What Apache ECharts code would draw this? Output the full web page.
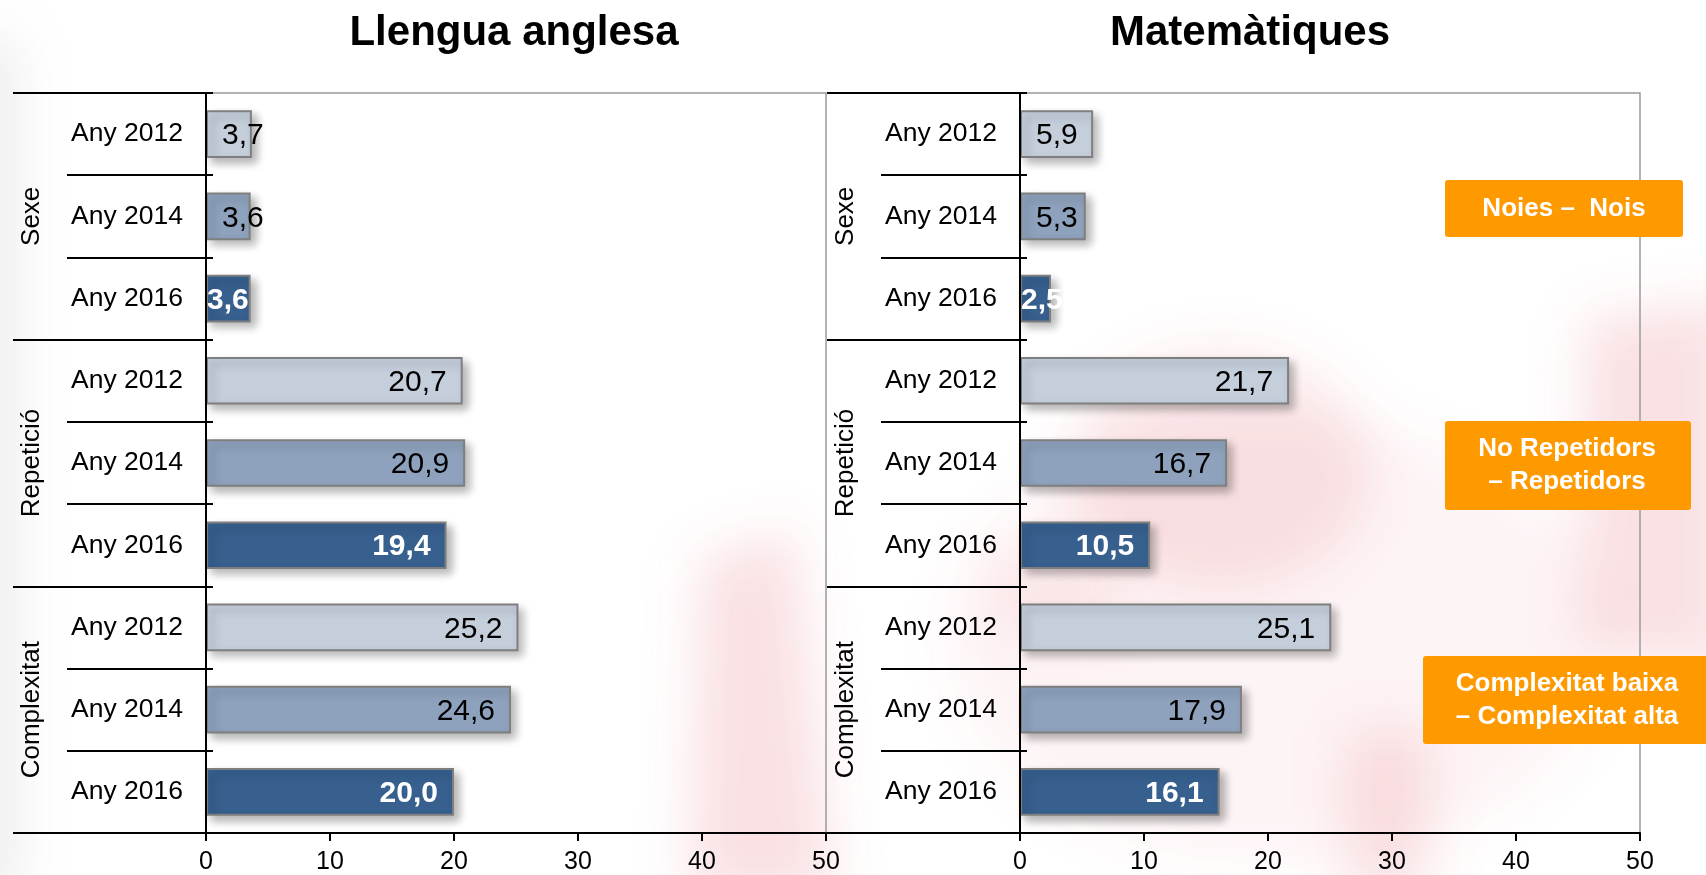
<!DOCTYPE html>
<html>
<head>
<meta charset="utf-8">
<title>Llengua anglesa · Matemàtiques</title>
<script src="https://cdn.jsdelivr.net/npm/echarts@6/dist/echarts.min.js"></script>
<style>
  html, body { margin: 0; padding: 0; background: #ffffff; }
  #wrap { position: relative; width: 1706px; height: 875px; overflow: hidden; }
  #haze { position: absolute; left: 0; top: 0; width: 1706px; height: 875px; }
  #chart { position: absolute; left: 0; top: 0; width: 1706px; height: 875px; }
</style>
</head>
<body>
<div id="wrap">
  <!-- faint watermark haze behind the chart -->
  <svg id="haze" width="1706" height="875" viewBox="0 0 1706 875">
    <defs>
      <filter id="soft" x="-40%" y="-40%" width="180%" height="180%">
        <feGaussianBlur stdDeviation="26"/>
      </filter>
    </defs>
    <g filter="url(#soft)">
      <rect x="-40" y="40" width="55" height="860" fill="#9a9a9a" opacity="0.20"/>
      <ellipse cx="1280" cy="640" rx="330" ry="220" fill="#e46874" opacity="0.07"/>
      <polygon points="700,560 795,530 835,900 690,900" fill="#e46874" opacity="0.20"/>
      <ellipse cx="1220" cy="470" rx="150" ry="120" fill="#e46874" opacity="0.15"/>
      <polygon points="1585,320 1730,300 1730,670 1580,650" fill="#e46874" opacity="0.20"/>
      <rect x="1345" y="730" width="85" height="170" fill="#e46874" opacity="0.18"/>
      <rect x="990" y="560" width="130" height="70" fill="#e46874" opacity="0.12"/>
    </g>
  </svg>
  <div id="chart"></div>
</div>
<script>
// Percentage-point gaps per group and survey year
const subjects = ['Llengua anglesa', 'Matemàtiques'];
const groups = ['Sexe', 'Repetició', 'Complexitat'];
const years = ['Any 2012', 'Any 2014', 'Any 2016'];
const english = [3.7, 3.6, 3.6, 20.7, 20.9, 19.4, 25.2, 24.6, 20.0];
const maths = [5.9, 5.3, 2.5, 21.7, 16.7, 10.5, 25.1, 17.9, 16.1];
const axisMin = 0;
const axisMax = 50;
const axisStep = 10;
const notes = ['Noies –  Nois', 'No Repetidors\n– Repetidors', 'Complexitat baixa\n– Complexitat alta'];

const yearColors = ['#C5CFDC', '#8EA2BD', '#37608F'];
const FONT = '"Liberation Sans", Arial, Helvetica, sans-serif';

const rowLabels = groups.flatMap(() => years);

const grids = [
  { left: 206, top: 93, width: 620, height: 740 },
  { left: 1020, top: 93, width: 620, height: 740 }
];

function fmt(v) { return v.toFixed(1).replace('.', ','); }

function barItems(values) {
  return values.map((v, i) => {
    const latest = i % 3 === 2;
    return {
      value: v,
      itemStyle: { color: yearColors[i % 3] },
      label: latest ? { color: '#ffffff', fontWeight: 'bold' } : { color: '#000000', fontWeight: 'normal' }
    };
  });
}

// keep value labels inside the bar end, but never past the bar start
function placeLabel(p) {
  const r = p.rect;
  const w = p.labelRect.width;
  const latest = p.dataIndex % 3 === 2;
  const start = r.x;
  const end = r.x + r.width;
  let right = end - 16;
  const minRight = start + (latest ? 1 : 16) + w;
  if (right < minRight) right = minRight;
  return { x: right, y: r.y + r.height / 2 + 2, align: 'right', verticalAlign: 'middle' };
}

const gridOpts = grids.map(g => Object.assign({
  show: true, borderColor: '#9a9a9a', borderWidth: 1.5, backgroundColor: 'transparent',
  containLabel: false, outerBoundsMode: 'none'
}, g));

const xAxes = grids.map((g, k) => ({
  type: 'value', gridIndex: k, min: axisMin, max: axisMax, interval: axisStep,
  axisLine: { show: true, lineStyle: { color: '#000', width: 2 } },
  axisTick: { show: true, length: 8, lineStyle: { color: '#000', width: 2 } },
  axisLabel: { fontSize: 25, color: '#000', fontFamily: FONT, margin: 17 },
  splitLine: { show: false }
}));

const yAxes = [];
grids.forEach((g, k) => {
  // year rows with their labels and boundary ticks
  yAxes.push({
    type: 'category', gridIndex: k, data: rowLabels, inverse: true, position: 'left',
    axisLine: { show: true, lineStyle: { color: '#000', width: 2 } },
    axisTick: { show: true, length: 139, lineStyle: { color: '#000', width: 2 } },
    axisLabel: { fontSize: 26.5, color: '#000', fontFamily: FONT, margin: 23, padding: [4, 0, 0, 0] },
    z: 3
  });
  // group names with long separators
  yAxes.push({
    type: 'category', gridIndex: k, data: groups, inverse: true, position: 'left',
    axisLine: { show: false },
    axisTick: { show: true, length: 193, lineStyle: { color: '#000', width: 2 } },
    axisLabel: {
      fontSize: 26, color: '#000', fontFamily: FONT, rotate: 90, margin: 174,
      align: 'center', verticalAlign: 'middle'
    },
    z: 3
  });
  // short stubs of the row separators inside the plot
  yAxes.push({
    type: 'category', gridIndex: k, data: rowLabels, inverse: true, position: 'left',
    axisLine: { show: false },
    axisTick: { show: true, inside: true, length: 7, lineStyle: { color: '#000', width: 2 } },
    axisLabel: { show: false },
    z: 3
  });
});

const seriesData = [english, maths];
const series = seriesData.map((vals, k) => ({
  type: 'bar', xAxisIndex: k, yAxisIndex: k * 3,
  data: barItems(vals),
  barWidth: '58%',
  itemStyle: {
    borderColor: '#7f7f7f', borderWidth: 2,
    shadowBlur: 9, shadowOffsetX: 5, shadowOffsetY: 5, shadowColor: 'rgba(0,0,0,0.30)'
  },
  label: {
    show: true, position: 'insideRight', distance: 16,
    fontSize: 30, fontFamily: FONT,
    formatter: p => fmt(p.value)
  },
  labelLayout: placeLabel,
  animation: false
}));

const titles = [
  { text: subjects[0], cx: 514 },
  { text: subjects[1], cx: 1250 }
];

const boxes = [
  { x: 1445, y: 180, w: 238, h: 57, cx: 1564 },
  { x: 1445, y: 421, w: 246, h: 89, cx: 1567 },
  { x: 1423, y: 656, w: 300, h: 88, cx: 1567 }
];

const graphics = [];
titles.forEach(t => graphics.push({
  type: 'text', x: t.cx, y: 33, z: 10,
  style: {
    text: t.text, x: 0, y: 0, align: 'center', verticalAlign: 'middle',
    font: 'bold 42px ' + FONT, fill: '#000'
  }
}));
boxes.forEach((b, i) => {
  graphics.push({
    type: 'rect', z: 20,
    shape: { x: b.x, y: b.y, width: b.w, height: b.h, r: 3 },
    style: { fill: '#FF9900' }
  });
  graphics.push({
    type: 'text', z: 21, x: b.cx, y: b.y + b.h / 2,
    style: {
      text: notes[i], align: 'center', verticalAlign: 'middle',
      font: 'bold 26px ' + FONT, fill: '#ffffff', lineHeight: 33
    }
  });
});

const chart = echarts.init(document.getElementById('chart'), null, { renderer: 'canvas' });
chart.setOption({
  backgroundColor: 'transparent',
  animation: false,
  grid: gridOpts,
  xAxis: xAxes,
  yAxis: yAxes,
  series: series,
  graphic: graphics
});
</script>
</body>
</html>
